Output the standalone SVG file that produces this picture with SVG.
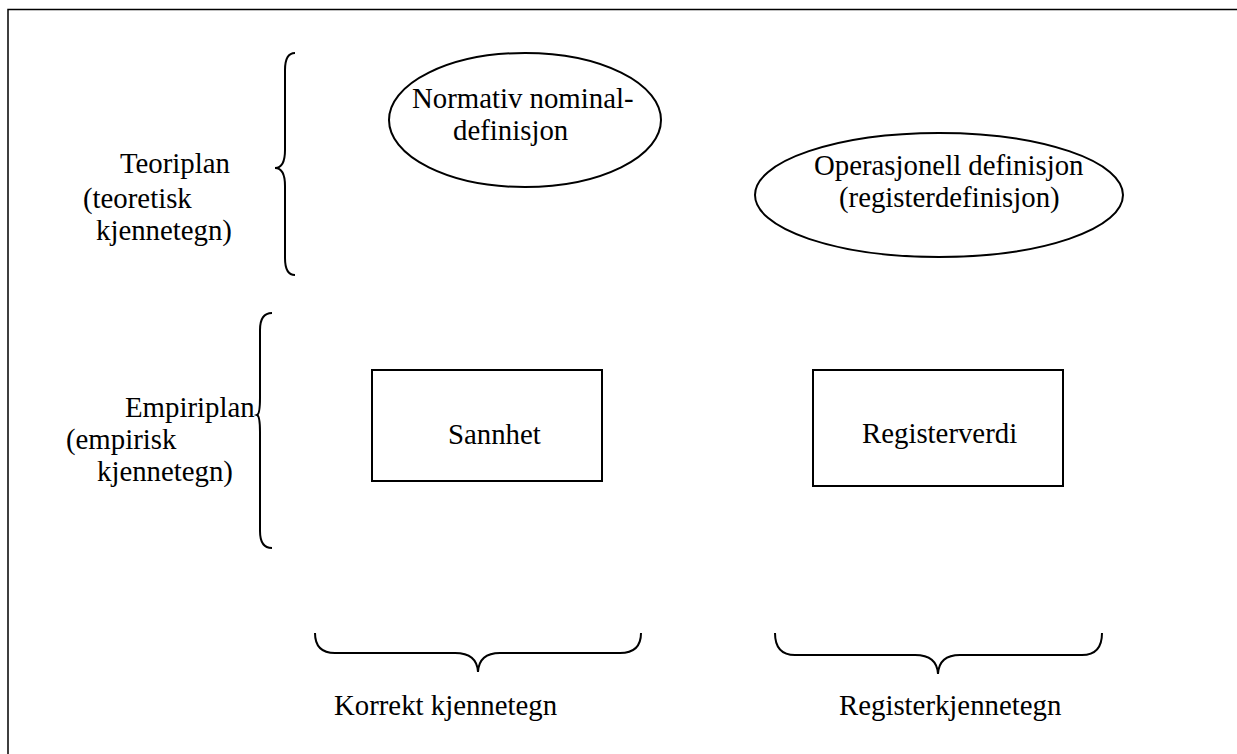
<svg xmlns="http://www.w3.org/2000/svg" width="1237" height="754" viewBox="0 0 1237 754">
<style>
text{font-family:"Liberation Serif","Times New Roman",serif;font-size:28.8px;fill:#000}
.s{fill:none;stroke:#000;stroke-width:2}
.f{fill:none;stroke:#000;stroke-width:1.5}
</style>
<rect width="1237" height="754" fill="#fff"/>
<path class="f" d="M8,754 V9.5 H1237"/>
<g id="label-teori">
<text x="120" y="173">Teoriplan</text>
<text x="83" y="208">(teoretisk</text>
<text x="96" y="240">kjennetegn)</text>
</g>
<g id="label-empiri">
<text x="125" y="417">Empiriplan</text>
<text x="66" y="449">(empirisk</text>
<text x="97" y="481">kjennetegn)</text>
</g>
<g id="normativ">
<ellipse class="s" cx="525" cy="120" rx="136" ry="67"/>
<text x="412" y="108">Normativ nominal-</text>
<text x="453" y="140">definisjon</text>
</g>
<g id="operasjonell">
<ellipse class="s" cx="939" cy="195" rx="184" ry="62"/>
<text x="814" y="175">Operasjonell definisjon</text>
<text x="839" y="207">(registerdefinisjon)</text>
</g>
<g id="sannhet">
<rect class="s" x="372" y="370" width="230" height="111"/>
<text x="448" y="444">Sannhet</text>
</g>
<g id="registerverdi">
<rect class="s" x="813" y="370" width="250" height="116"/>
<text x="862" y="443">Registerverdi</text>
</g>
<g id="braces">
<path class="s" d="M295,53 Q285,53 285,70 V150 Q285,168 275,168 Q285,168 285,186 V258 Q285,275 295,275"/>
<path class="s" d="M272,313 Q260,313 260,330 V398 Q260,414 257,415 Q260,416 260,432 V531 Q260,548 272,548"/>
<path class="s" d="M315,633 Q315,653 335,653 H455 Q477,653 478,672 Q479,653 500,653 H620 Q641,653 641,633"/>
<path class="s" d="M775,633 Q775,655 795,655 H915 Q937,655 938,674 Q939,655 960,655 H1082 Q1102,655 1102,633"/>
</g>
<g id="captions">
<text x="334" y="715">Korrekt kjennetegn</text>
<text x="839" y="715">Registerkjennetegn</text>
</g>
</svg>
